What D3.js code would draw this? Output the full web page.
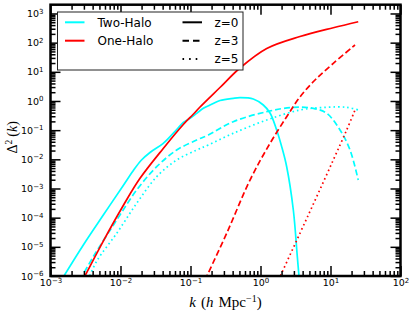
<!DOCTYPE html>
<html>
<head>
<meta charset="utf-8">
<script src="https://cdn.jsdelivr.net/npm/d3@7"></script>
<style>
body { margin: 0; background: #fff; }
text { font-family: "DejaVu Sans", sans-serif; }
</style>
</head>
<body>
<svg width="415" height="317"></svg>
<script>
// values: k in h/Mpc, Delta^2(k)
const kTwoZ0 = [0.001435, 0.002944, 0.00568, 0.01096, 0.0151, 0.01963, 0.02638, 0.0408, 0.0635, 0.0789, 0.0984, 0.1227, 0.1524, 0.1901, 0.2636, 0.4083, 0.509, 0.7889, 1.096, 1.368, 1.702, 1.995, 2.366, 2.944, 3.357, 3.606];
const dTwoZ0 = [7.3e-7, 1.16e-5, 1.23e-4, 1.27e-3, 3.98e-3, 9.12e-3, 0.01714, 0.0354, 0.105, 0.183, 0.2547, 0.378, 0.561, 0.728, 1.04, 1.236, 1.297, 1.169, 0.728, 0.387, 0.1012, 0.0286, 5.58e-3, 1.83e-4, 4.59e-6, 6.2e-7];

const kTwoZ3 = [0.002636, 0.004083, 0.00883, 0.01702, 0.0329, 0.0635, 0.1227, 0.1795, 0.4083, 1.227, 2.944, 5.675, 8.83, 13.68, 19.01, 24.9];
const dTwoZ3 = [7.3e-7, 4.59e-6, 8.32e-5, 8.87e-4, 5.58e-3, 0.0209, 0.0459, 0.0682, 0.195, 0.4295, 0.607, 0.561, 0.378, 0.1012, 0.0209, 1.95e-3];

const kTwoZ5 = [0.003436, 0.00457, 0.00883, 0.01702, 0.0329, 0.0635, 0.1227, 0.1795, 0.4083, 1.227, 3.66, 8.83, 17.02, 24.9];
const dTwoZ5 = [7.3e-7, 3.24e-6, 2.91e-5, 3.1e-4, 2.54e-3, 9.48e-3, 0.0209, 0.031, 0.078, 0.223, 0.491, 0.607, 0.607, 0.491];

const kOneZ0 = [0.00288, 0.00568, 0.01096, 0.019, 0.0408, 0.0789, 0.1086, 0.1368, 0.2636, 0.509, 1.227, 3.66, 10.96, 24.9];
const dOneZ0 = [7.1e-7, 1.58e-5, 2.61e-4, 2.23e-3, 0.0235, 0.156, 0.344, 0.622, 2.90, 13.5, 63, 162, 325, 522];

const kOneZ3 = [0.161, 0.3289, 0.708, 1.368, 2.366, 3.66, 6.01, 10.96, 22.4];
const dOneZ3 = [7.3e-7, 2.91e-5, 1.95e-3, 0.0354, 0.289, 1.37, 5.24, 19.5, 83];

const kOneZ5 = [1.807, 3.66, 6.35, 10.96, 17.02, 22.4];
const dOneZ5 = [7.3e-7, 2.91e-5, 5.24e-4, 9.48e-3, 0.1012, 0.491];

const haloLabels = ['Two-Halo', 'One-Halo'];
const zLabels = ['z=0', 'z=3', 'z=5'];
const xMajors = [1e-3, 1e-2, 1e-1, 1e0, 1e1, 1e2];
const yMajors = [1e-6, 1e-5, 1e-4, 1e-3, 1e-2, 1e-1, 1e0, 1e1, 1e2, 1e3];

const svg = d3.select('svg');
const width = +svg.attr('width');
const height = +svg.attr('height');

const plotLeft = 50.5, plotRight = 400.5, plotTop = 4.7, plotBottom = 276;

const xScale = d3.scaleLog().domain([1e-3, 1e2]).range([plotLeft, plotRight]);
const yScale = d3.scaleLog().domain([1e-6, 2e3]).range([plotBottom, plotTop]);

const colors = ['#00ffff', '#ff0000'];
const dashes = [null, '6,3', '1.6,3'];

const series = [
	{k: kTwoZ0, d: dTwoZ0, halo: 0, z: 0},
	{k: kTwoZ3, d: dTwoZ3, halo: 0, z: 1},
	{k: kTwoZ5, d: dTwoZ5, halo: 0, z: 2},
	{k: kOneZ0, d: dOneZ0, halo: 1, z: 0},
	{k: kOneZ3, d: dOneZ3, halo: 1, z: 1},
	{k: kOneZ5, d: dOneZ5, halo: 1, z: 2}
];

const minorsFor = (lo, hi, max) => {
	const out = [];
	for (let n = lo; n <= hi; n++)
		for (let j = 2; j <= 9; j++) {
			const v = j * Math.pow(10, n);
			if (v < max) out.push(v);
		}
	return out;
};
const xMinors = minorsFor(-3, 1, 1e2);
const yMinors = minorsFor(-6, 3, 2e3);

svg.append('clipPath').attr('id', 'plot-clip')
	.append('rect')
		.attr('x', plotLeft).attr('y', plotTop)
		.attr('width', plotRight - plotLeft).attr('height', plotBottom - plotTop);

const line = d3.line()
	.x(p => xScale(p[0]))
	.y(p => yScale(p[1]))
	.curve(d3.curveCatmullRom.alpha(0.5));

svg.append('g')
	.attr('clip-path', 'url(#plot-clip)')
	.selectAll('path').data(series)
	.enter().append('path')
		.attr('d', s => line(s.k.map((k, i) => [k, s.d[i]])))
		.attr('fill', 'none')
		.attr('stroke', s => colors[s.halo])
		.attr('stroke-width', 1.7)
		.attr('stroke-dasharray', s => dashes[s.z]);

// axes: ticks inward on all four sides
const supLabel = function(d) {
	const t = d3.select(this);
	const dy = t.attr('dy');
	const e = Math.round(Math.log10(d));
	t.text(null).attr('dy', null);
	t.append('tspan').attr('dy', dy).text('10');
	t.append('tspan')
		.attr('font-size', 7)
		.attr('dy', -3.5)
		.text(e < 0 ? '\u2212' + (-e) : e);
};

const addAxis = (axisFn, scale, majors, minors, transform, labels) => {
	const g = svg.append('g').attr('transform', transform);
	g.call(axisFn(scale).tickValues(minors).tickSize(-5).tickSizeOuter(0).tickFormat(''));
	const gm = svg.append('g').attr('transform', transform);
	gm.call(axisFn(scale).tickValues(majors).tickSize(-10).tickSizeOuter(0)
		.tickPadding(labels ? labels : 0).tickFormat(labels ? d => d : ''));
	[g, gm].forEach(a => {
		a.select('.domain').remove();
		a.selectAll('.tick line').attr('stroke-width', 1.5);
		a.attr('font-family', '"DejaVu Sans", sans-serif').attr('font-size', 9.5);
	});
	if (labels) gm.selectAll('.tick text').attr('fill', '#000').each(supLabel);
};

addAxis(d3.axisBottom, xScale, xMajors, xMinors, `translate(0, ${plotBottom})`, 3.5);
addAxis(d3.axisTop, xScale, xMajors, xMinors, `translate(0, ${plotTop})`, 0);
addAxis(d3.axisLeft, yScale, yMajors, yMinors, `translate(${plotLeft}, 0)`, 7);
addAxis(d3.axisRight, yScale, yMajors, yMinors, `translate(${plotRight}, 0)`, 0);

svg.append('rect')
	.attr('x', plotLeft).attr('y', plotTop)
	.attr('width', plotRight - plotLeft).attr('height', plotBottom - plotTop)
	.attr('fill', 'none')
	.attr('stroke', '#000')
	.attr('stroke-width', 2.5);

// axis labels
const xLabel = svg.append('text')
	.attr('x', (plotLeft + plotRight) / 2)
	.attr('y', 307)
	.attr('text-anchor', 'middle')
	.style('font-family', '"Liberation Serif", "DejaVu Serif", serif')
	.attr('font-size', 15);
xLabel.append('tspan').attr('font-style', 'italic').text('k');
xLabel.append('tspan').attr('dx', 5).text('(');
xLabel.append('tspan').attr('font-style', 'italic').text('h');
xLabel.append('tspan').attr('dx', 5).text('Mpc');
xLabel.append('tspan').attr('font-size', 10).attr('dy', -5.5).text('\u22121');
xLabel.append('tspan').attr('dy', 5.5).text(')');

const yLabel = svg.append('text')
	.attr('transform', `translate(17, ${(plotTop + plotBottom) / 2 - 3}) rotate(-90)`)
	.attr('text-anchor', 'middle')
	.style('font-family', '"Liberation Serif", "DejaVu Serif", serif')
	.attr('font-size', 14);
yLabel.append('tspan').text('\u0394');
yLabel.append('tspan').attr('font-size', 9.5).attr('dy', -5).text('2');
yLabel.append('tspan').attr('dy', 5).attr('dx', 3).text('(');
yLabel.append('tspan').attr('font-style', 'italic').text('k');
yLabel.append('tspan').text(')');

// legend
const legend = svg.append('g');
legend.append('rect')
	.attr('x', 57.5).attr('y', 12)
	.attr('width', 185.5).attr('height', 58)
	.attr('fill', '#fff')
	.attr('stroke', '#222')
	.attr('stroke-width', 1);

const rowY = i => 22.3 + i * 18.4;

const haloItems = legend.selectAll('.halo').data(haloLabels)
	.enter().append('g').attr('class', 'halo');
haloItems.append('line')
	.attr('x1', 65).attr('x2', 84.5)
	.attr('y1', (d, i) => rowY(i)).attr('y2', (d, i) => rowY(i))
	.attr('stroke', (d, i) => colors[i])
	.attr('stroke-width', 2);
haloItems.append('text')
	.attr('x', 97.5).attr('y', (d, i) => rowY(i))
	.attr('dy', '0.36em')
	.attr('font-size', 12)
	.text(d => d);

const zItems = legend.selectAll('.zrow').data(zLabels)
	.enter().append('g').attr('class', 'zrow');
zItems.append('line')
	.attr('x1', 182.5).attr('x2', 202)
	.attr('y1', (d, i) => rowY(i)).attr('y2', (d, i) => rowY(i))
	.attr('stroke', '#000')
	.attr('stroke-width', 2)
	.attr('stroke-dasharray', (d, i) => i === 0 ? null : (i === 1 ? '6.5,4' : '1.6,5'));
zItems.append('text')
	.attr('x', 214.5).attr('y', (d, i) => rowY(i))
	.attr('dy', '0.36em')
	.attr('font-size', 12)
	.text(d => d);
</script>
</body>
</html>
